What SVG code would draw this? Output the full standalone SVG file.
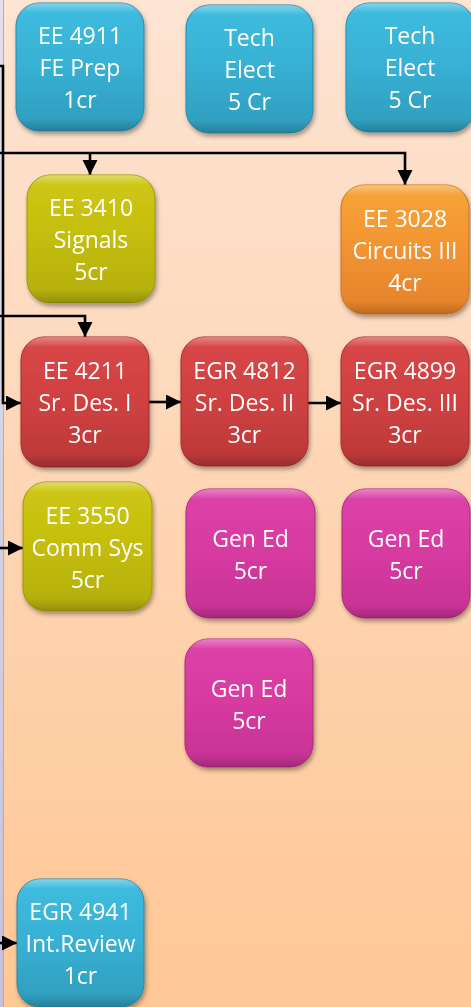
<svg xmlns="http://www.w3.org/2000/svg" width="471" height="1007" viewBox="0 0 471 1007">
<defs>
<linearGradient id="bg" x1="0" y1="0" x2="0" y2="1">
<stop offset="0" stop-color="#fde4d3"/>
<stop offset="1" stop-color="#ffc795"/>
</linearGradient>
<linearGradient id="strip" x1="0" y1="0" x2="0" y2="1">
<stop offset="0" stop-color="#e2e1ea"/>
<stop offset="1" stop-color="#c7c1dc"/>
</linearGradient>
<linearGradient id="gBlue" x1="0" y1="0" x2="0" y2="1">
<stop offset="0" stop-color="#3fbde0"/>
<stop offset="0.5" stop-color="#37b0d3"/>
<stop offset="1" stop-color="#2f9cbc"/>
</linearGradient>
<linearGradient id="gOlive" x1="0" y1="0" x2="0" y2="1">
<stop offset="0" stop-color="#cfc816"/>
<stop offset="0.5" stop-color="#c4bd0d"/>
<stop offset="1" stop-color="#b3ad09"/>
</linearGradient>
<linearGradient id="gOrange" x1="0" y1="0" x2="0" y2="1">
<stop offset="0" stop-color="#f6a537"/>
<stop offset="0.5" stop-color="#f29332"/>
<stop offset="1" stop-color="#e4812a"/>
</linearGradient>
<linearGradient id="gRed" x1="0" y1="0" x2="0" y2="1">
<stop offset="0" stop-color="#d94747"/>
<stop offset="0.5" stop-color="#cf4141"/>
<stop offset="1" stop-color="#ba3737"/>
</linearGradient>
<linearGradient id="gMag" x1="0" y1="0" x2="0" y2="1">
<stop offset="0" stop-color="#dd43a8"/>
<stop offset="0.5" stop-color="#d73aa0"/>
<stop offset="1" stop-color="#c53293"/>
</linearGradient>
<linearGradient id="gloss" x1="0" y1="0" x2="0" y2="1">
<stop offset="0" stop-color="#fff" stop-opacity="0.35"/>
<stop offset="0.08" stop-color="#fff" stop-opacity="0"/>
<stop offset="0.9" stop-color="#000" stop-opacity="0"/>
<stop offset="1" stop-color="#000" stop-opacity="0.18"/>
</linearGradient>
<filter id="sh" x="-10%" y="-10%" width="125%" height="125%">
<feDropShadow dx="1.5" dy="3" stdDeviation="2" flood-color="#000" flood-opacity="0.35"/>
</filter>
<marker id="arr" markerUnits="userSpaceOnUse" markerWidth="17" markerHeight="17" refX="15" refY="7.5" orient="auto">
<path d="M0,0 L15,7.5 L0,15 z" fill="#000"/>
</marker>
</defs>
<style>
.box{filter:url(#sh)}
.gl{fill:url(#gloss)}
.b{fill:url(#gBlue);stroke:#2a87a4;stroke-width:1}
.o{fill:url(#gOlive);stroke:#9c9606;stroke-width:1}
.or{fill:url(#gOrange);stroke:#cf7020;stroke-width:1}
.r{fill:url(#gRed);stroke:#a02d2d;stroke-width:1}
.m{fill:url(#gMag);stroke:#a92a7d;stroke-width:1}
text{font-family:"Open Sans","DejaVu Sans",sans-serif;font-size:23px;fill:#fff;text-anchor:middle}
.c{fill:none;stroke:#000;stroke-width:2.6}
</style>
<rect x="0" y="0" width="471" height="1007" fill="url(#bg)"/>
<rect x="0" y="0" width="3.5" height="1007" fill="url(#strip)"/>
<line x1="3.5" y1="0" x2="3.5" y2="1007" stroke="#aeabc6" stroke-width="1"/>

<g id="connectors">
<path class="c" d="M0,66 H3 V403 H21" marker-end="url(#arr)"/>
<path class="c" d="M0,153 H405 V185" marker-end="url(#arr)"/>
<path class="c" d="M90,153 V175" marker-end="url(#arr)"/>
<path class="c" d="M0,316 H85 V337" marker-end="url(#arr)"/>
<path class="c" d="M149,402 H181" marker-end="url(#arr)"/>
<path class="c" d="M308,403 H341" marker-end="url(#arr)"/>
<path class="c" d="M0,548 H23" marker-end="url(#arr)"/>
<path class="c" d="M0,943 H17" marker-end="url(#arr)"/>
</g>

<g id="ee4911" class="box">
<rect class="b" x="16" y="3" width="128" height="128" rx="23"/>
<rect class="gl" x="16" y="3" width="128" height="128" rx="23"/>
<text x="80" y="44">EE 4911</text><text x="80" y="76">FE Prep</text><text x="80" y="108">1cr</text>
</g>
<g id="tech1" class="box">
<rect class="b" x="186" y="5" width="127" height="128" rx="23"/>
<rect class="gl" x="186" y="5" width="127" height="128" rx="23"/>
<text x="249.5" y="46">Tech</text><text x="249.5" y="78">Elect</text><text x="249.5" y="110">5 Cr</text>
</g>
<g id="tech2" class="box">
<rect class="b" x="346" y="3" width="128" height="129" rx="23"/>
<rect class="gl" x="346" y="3" width="128" height="129" rx="23"/>
<text x="410" y="44">Tech</text><text x="410" y="76">Elect</text><text x="410" y="108">5 Cr</text>
</g>
<g id="ee3410" class="box">
<rect class="o" x="27" y="175" width="128" height="128" rx="23"/>
<rect class="gl" x="27" y="175" width="128" height="128" rx="23"/>
<text x="91" y="216">EE 3410</text><text x="91" y="248">Signals</text><text x="91" y="280">5cr</text>
</g>
<g id="ee3028" class="box">
<rect class="or" x="341" y="185" width="128" height="129" rx="23"/>
<rect class="gl" x="341" y="185" width="128" height="129" rx="23"/>
<text x="405" y="227">EE 3028</text><text x="405" y="259">Circuits III</text><text x="405" y="291">4cr</text>
</g>
<g id="ee4211" class="box">
<rect class="r" x="21" y="337" width="128" height="130" rx="23"/>
<rect class="gl" x="21" y="337" width="128" height="130" rx="23"/>
<text x="85" y="379">EE 4211</text><text x="85" y="411">Sr. Des. I</text><text x="85" y="443">3cr</text>
</g>
<g id="egr4812" class="box">
<rect class="r" x="181" y="337" width="127" height="129" rx="23"/>
<rect class="gl" x="181" y="337" width="127" height="129" rx="23"/>
<text x="244.5" y="379">EGR 4812</text><text x="244.5" y="411">Sr. Des. II</text><text x="244.5" y="443">3cr</text>
</g>
<g id="egr4899" class="box">
<rect class="r" x="341" y="337" width="128" height="129" rx="23"/>
<rect class="gl" x="341" y="337" width="128" height="129" rx="23"/>
<text x="405" y="379">EGR 4899</text><text x="405" y="411">Sr. Des. III</text><text x="405" y="443">3cr</text>
</g>
<g id="ee3550" class="box">
<rect class="o" x="23" y="482" width="129" height="129" rx="23"/>
<rect class="gl" x="23" y="482" width="129" height="129" rx="23"/>
<text x="87.5" y="524">EE 3550</text><text x="87.5" y="556">Comm Sys</text><text x="87.5" y="588">5cr</text>
</g>
<g id="gened1" class="box">
<rect class="m" x="186" y="489" width="129" height="129" rx="23"/>
<rect class="gl" x="186" y="489" width="129" height="129" rx="23"/>
<text x="250.5" y="547">Gen Ed</text><text x="250.5" y="579">5cr</text>
</g>
<g id="gened2" class="box">
<rect class="m" x="342" y="489" width="128" height="129" rx="23"/>
<rect class="gl" x="342" y="489" width="128" height="129" rx="23"/>
<text x="406" y="547">Gen Ed</text><text x="406" y="579">5cr</text>
</g>
<g id="gened3" class="box">
<rect class="m" x="185" y="639" width="128" height="128" rx="23"/>
<rect class="gl" x="185" y="639" width="128" height="128" rx="23"/>
<text x="249" y="697">Gen Ed</text><text x="249" y="729">5cr</text>
</g>
<g id="egr4941" class="box">
<rect class="b" x="17" y="879" width="127" height="128" rx="23"/>
<rect class="gl" x="17" y="879" width="127" height="128" rx="23"/>
<text x="80.5" y="920">EGR 4941</text><text x="80.5" y="952">Int.Review</text><text x="80.5" y="984">1cr</text>
</g>
</svg>
